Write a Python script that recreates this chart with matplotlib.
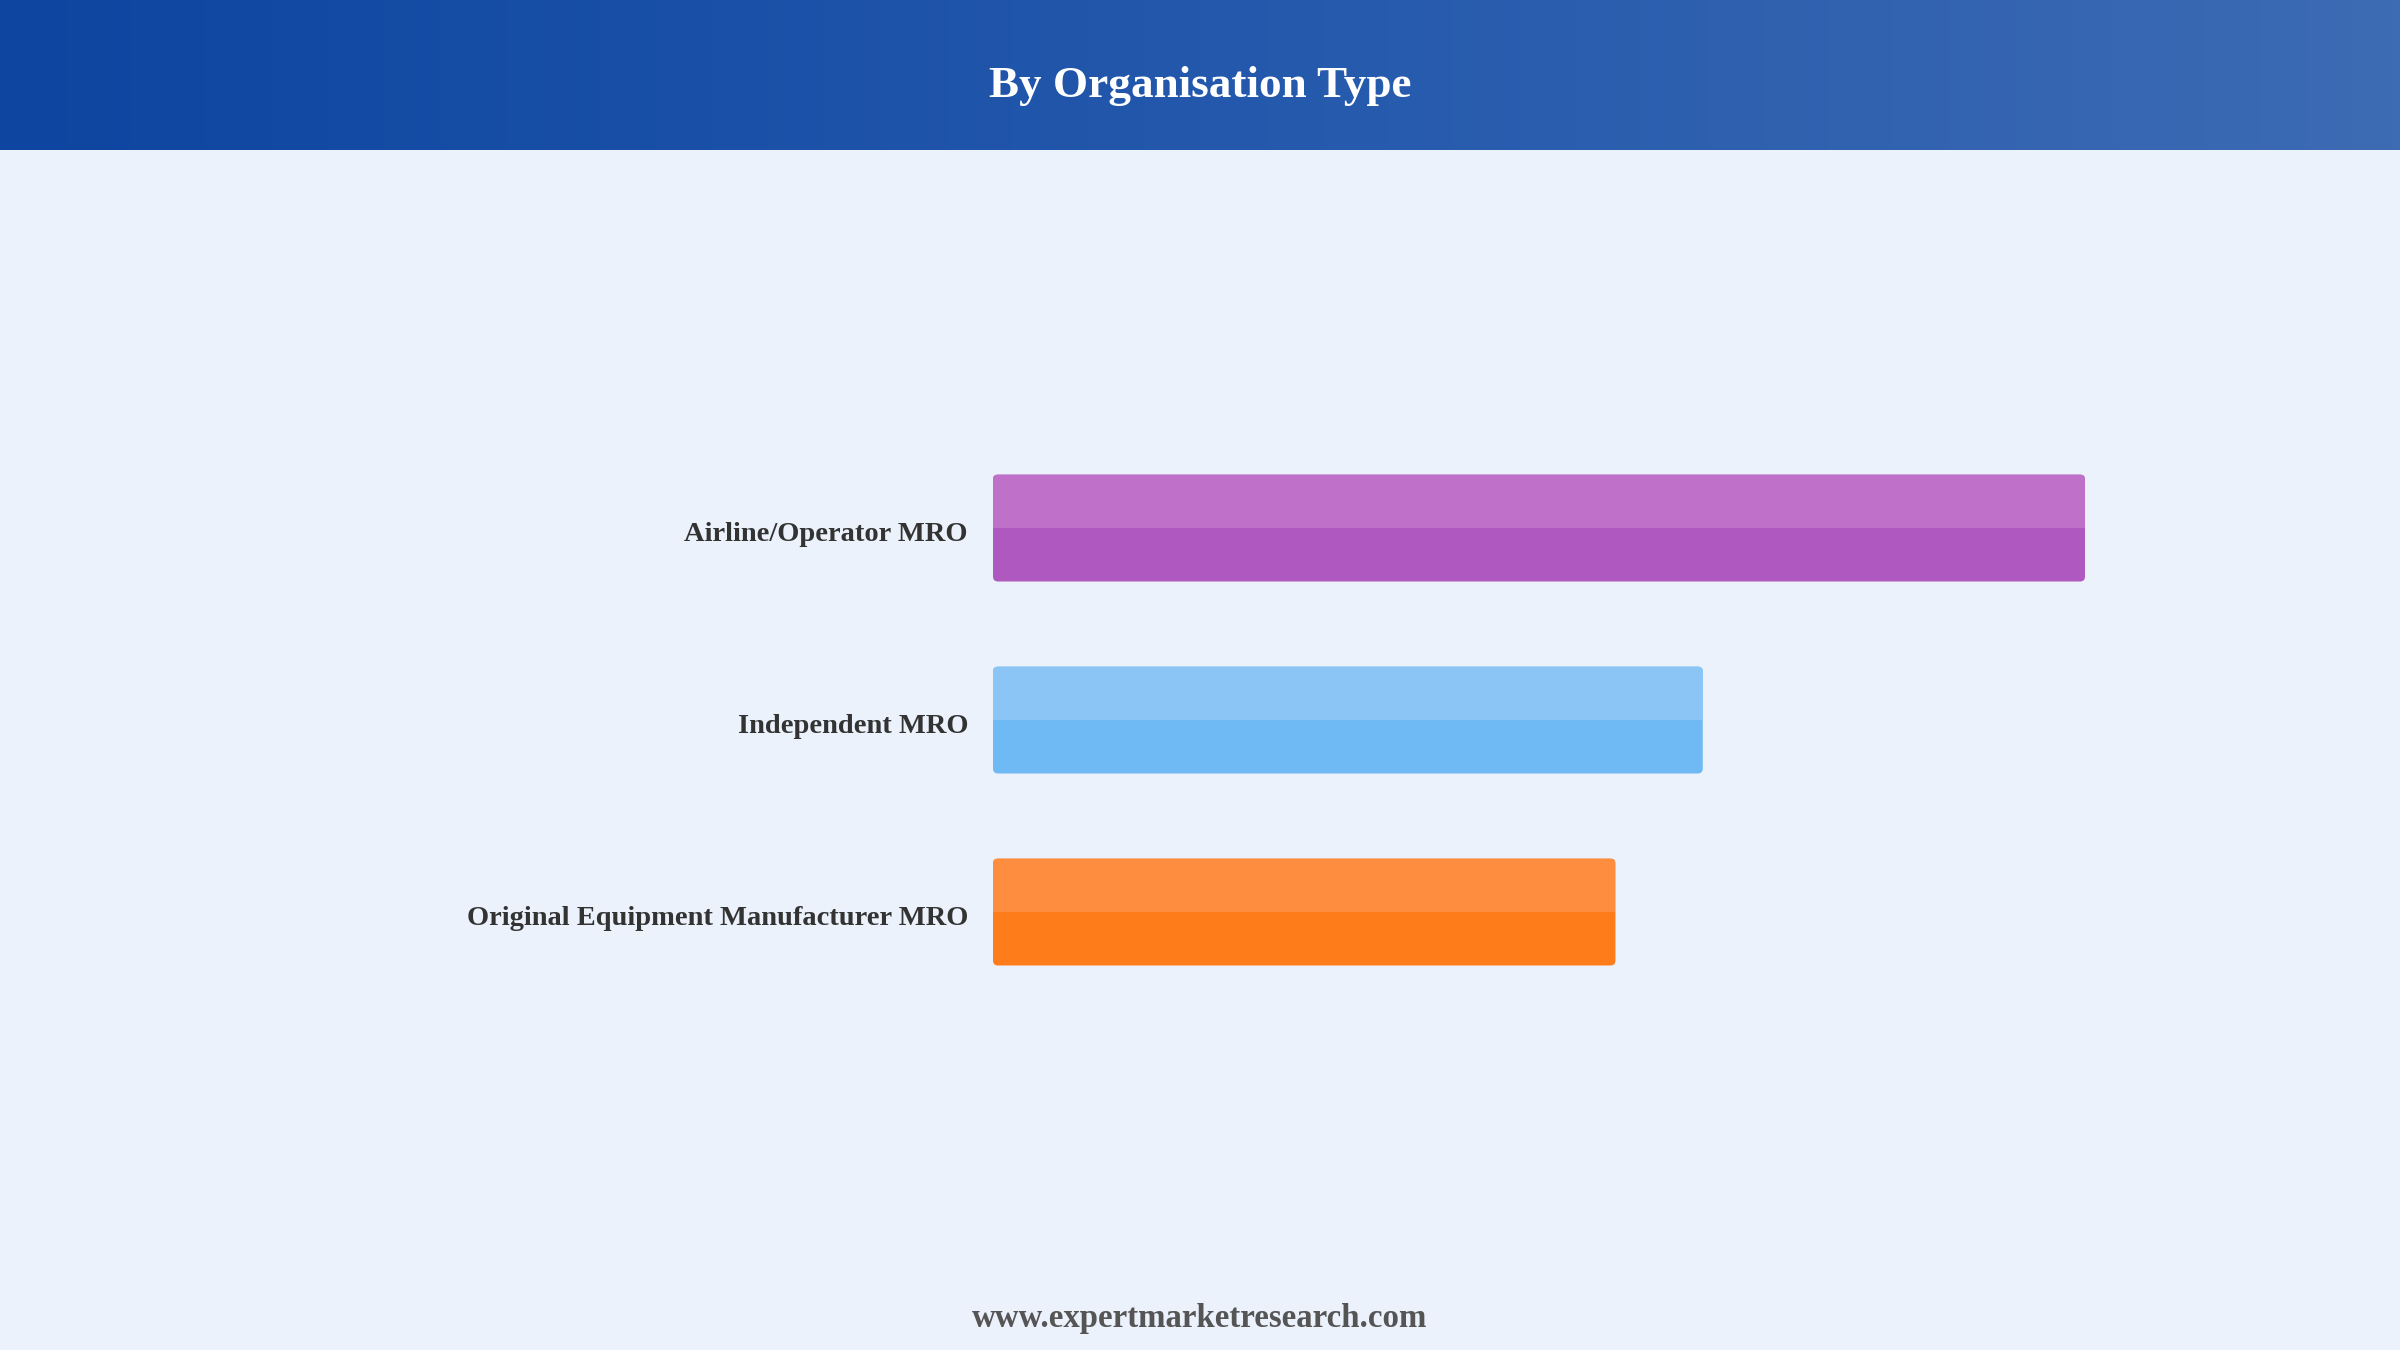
import numpy as np
import matplotlib.pyplot as plt
import matplotlib.transforms as mtransforms
from matplotlib.colors import LinearSegmentedColormap
from matplotlib.patches import FancyBboxPatch

categories = ["Airline/Operator MRO", "Independent MRO", "Original Equipment Manufacturer MRO"]
values = [50.0, 32.5, 28.5]
top_colors = ["#BF70C9", "#8BC5F5", "#FF8D3F"]
bottom_colors = ["#AF59C0", "#6FBAF4", "#FF7C1A"]

W, H = 2400, 1350
fig = plt.figure(figsize=(24, 13.5), dpi=100)
fig.patch.set_facecolor("#EBF2FC")

# header band with horizontal gradient
hdr = fig.add_axes([0, 1 - 150 / H, 1, 150 / H])
grad = np.linspace(0, 1, 256).reshape(1, -1)
cmap = LinearSegmentedColormap.from_list("hdr", ["#0D45A0", "#2358AC", "#3D6BB4"])
hdr.imshow(grad, aspect="auto", cmap=cmap, extent=[0, 1, 0, 1])
hdr.set_axis_off()
hdr.text(0.5, 0.43, "By Organisation Type", ha="center", va="center", color="white",
         fontsize=32.5, fontweight="bold", family="Liberation Serif")

# bar area
x0, x1 = 993 / W, 2085 / W
y_top, y_bot = 432, 1008
ax = fig.add_axes([x0, 1 - y_bot / H, x1 - x0, (y_bot - y_top) / H])
ax.set_facecolor("none")
y = np.arange(len(categories))
bh = 107 / 192
ax.set_xlim(0, max(values))
ax.set_ylim(len(categories) - 0.5, -0.5)

# rounded corners: x units per px vs y units per px
xpp = max(values) / (2085 - 993)
ypp = len(categories) / (y_bot - y_top)
full = ax.barh(y, values, height=bh, color=bottom_colors)
for p in full.patches:
    p.set_visible(False)
    rb = FancyBboxPatch((p.get_x(), p.get_y()), p.get_width(), p.get_height(),
                        boxstyle=f"round,pad=0,rounding_size={5 * xpp}",
                        mutation_aspect=ypp / xpp, facecolor=p.get_facecolor(),
                        edgecolor="none")
    ax.add_patch(rb)
    p.rounded = rb
tops = ax.barh(y - bh / 2, values, height=bh / 2, align="edge", color=top_colors)
for p, f in zip(tops.patches, full.patches):
    p.set_clip_path(f.rounded)

ax.set_yticks(y)
ax.set_yticklabels(categories, fontsize=20.5, fontweight="bold", family="Liberation Serif", color="#333333")
ax.tick_params(axis="y", length=0, pad=18)
shift = mtransforms.ScaledTranslation(0, -3 / 100, fig.dpi_scale_trans)
for lab in ax.get_yticklabels():
    lab.set_transform(lab.get_transform() + shift)
ax.set_xticks([])
for s in ax.spines.values():
    s.set_visible(False)

fig.text(0.5, 1 - 1319 / H, "www.expertmarketresearch.com", ha="center", va="center",
         fontsize=23.7, fontweight="bold", family="Liberation Serif", color="#555555")

fig.savefig("out.png", dpi=100, facecolor=fig.get_facecolor())
